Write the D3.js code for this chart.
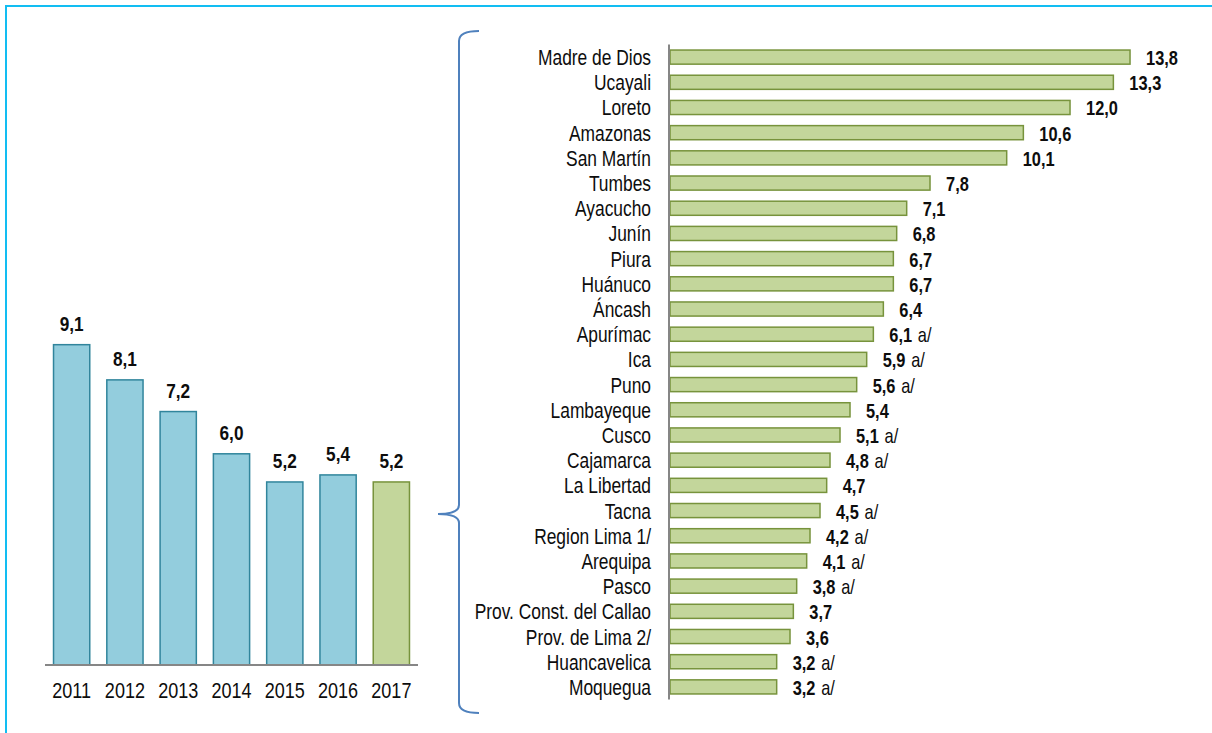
<!DOCTYPE html>
<html>
<head>
<meta charset="utf-8">
<script src="https://cdn.jsdelivr.net/npm/d3@7"></script>
<style>
  html, body { margin: 0; padding: 0; background: #ffffff; }
  svg { display: block; font-family: "Liberation Sans", Arial, sans-serif; }
</style>
</head>
<body>
<div id="chart"></div>
<script>
// Left chart: yearly values
const years = ['2011', '2012', '2013', '2014', '2015', '2016', '2017'];
const yearValues = [9.1, 8.1, 7.2, 6.0, 5.2, 5.4, 5.2];

// Right chart: regions in 2017
const regions = [
    'Madre de Dios', 'Ucayali', 'Loreto', 'Amazonas', 'San Martín', 'Tumbes',
    'Ayacucho', 'Junín', 'Piura', 'Huánuco', 'Áncash', 'Apurímac', 'Ica', 'Puno',
    'Lambayeque', 'Cusco', 'Cajamarca', 'La Libertad', 'Tacna', 'Region Lima 1/',
    'Arequipa', 'Pasco', 'Prov. Const. del Callao', 'Prov. de Lima 2/',
    'Huancavelica', 'Moquegua'
];
const regionValues = [13.8, 13.3, 12.0, 10.6, 10.1, 7.8, 7.1, 6.8, 6.7, 6.7, 6.4, 6.1, 5.9, 5.6,
    5.4, 5.1, 4.8, 4.7, 4.5, 4.2, 4.1, 3.8, 3.7, 3.6, 3.2, 3.2];
const regionNotes = ['', '', '', '', '', '', '', '', '', '', '', 'a/', 'a/', 'a/',
    '', 'a/', 'a/', '', 'a/', 'a/', 'a/', 'a/', '', '', 'a/', 'a/'];

const width = 1212;
const height = 733;
const fmt = v => v.toFixed(1).replace('.', ',');

const svg = d3.select('#chart').append('svg')
    .attr('width', width)
    .attr('height', height)
    .attr('viewBox', [0, 0, width, height]);

// frame (top and left only)
svg.append('path')
    .attr('d', `M6,${height} L6,6 L${width},6`)
    .attr('fill', 'none')
    .attr('stroke', '#12bdf2')
    .attr('stroke-width', 2);

// text squeezed horizontally, like the source image
function narrowText(parent, x, y, anchor, size, weight, sx) {
    return parent.append('text')
        .attr('transform', `translate(${x},${y}) scale(${sx || 0.78},1)`)
        .attr('text-anchor', anchor)
        .style('font-size', size + 'px')
        .style('font-weight', weight || 'normal')
        .style('fill', '#0d0d0d');
}

// ---- Left chart ----
const left = { x0: 45, x1: 418, base: 665 };

const xYear = d3.scaleBand()
    .domain(years)
    .range([left.x0, left.x1])
    .paddingInner(0.32)
    .paddingOuter(0.16);

const yYear = d3.scaleLinear()
    .domain([0, 10])
    .range([left.base, left.base - 352]);

const gl = svg.append('g');

gl.selectAll('rect')
    .data(years)
    .join('rect')
    .attr('x', d => xYear(d))
    .attr('y', (d, i) => yYear(yearValues[i]))
    .attr('width', xYear.bandwidth())
    .attr('height', (d, i) => yYear(0) - yYear(yearValues[i]))
    .attr('fill', (d, i) => i === years.length - 1 ? '#c3d69b' : '#93cddd')
    .attr('stroke', (d, i) => i === years.length - 1 ? '#77933c' : '#31859c')
    .attr('stroke-width', 1.5);

gl.append('line')
    .attr('x1', left.x0).attr('x2', left.x1)
    .attr('y1', left.base).attr('y2', left.base)
    .attr('stroke', '#868686')
    .attr('stroke-width', 2);

years.forEach((yr, i) => {
    const cx = xYear(yr) + xYear.bandwidth() / 2;
    narrowText(gl, cx, yYear(yearValues[i]) - 14, 'middle', 21, 'bold', 0.82)
        .text(fmt(yearValues[i]));
    narrowText(gl, cx, 698, 'middle', 22, 'normal', 0.82)
        .text(yr);
});

// ---- Brace ----
svg.append('path')
    .attr('d', 'M479,31 Q459,31 459,41 L459,505 Q459,514 438,514 Q459,514 459,523 L459,703 Q459,713 479,713')
    .attr('fill', 'none')
    .attr('stroke', '#4f81bd')
    .attr('stroke-width', 2);

// ---- Right chart ----
const right = { x0: 670, top: 44.5, bottom: 699.5 };

const yReg = d3.scaleBand()
    .domain(regions)
    .range([right.top, right.bottom])
    .paddingInner(0.44)
    .paddingOuter(0.22);

const xReg = d3.scaleLinear()
    .domain([0, 14])
    .range([right.x0, right.x0 + 466.7]);

const gr = svg.append('g');

gr.selectAll('rect')
    .data(regions)
    .join('rect')
    .attr('x', xReg(0))
    .attr('y', d => yReg(d))
    .attr('width', (d, i) => xReg(regionValues[i]) - xReg(0))
    .attr('height', yReg.bandwidth())
    .attr('fill', '#c3d69b')
    .attr('stroke', '#77933c')
    .attr('stroke-width', 1.5);

gr.append('line')
    .attr('x1', 669).attr('x2', 669)
    .attr('y1', right.top).attr('y2', right.bottom)
    .attr('stroke', '#868686')
    .attr('stroke-width', 2);

regions.forEach((r, i) => {
    const cy = yReg(r) + yReg.bandwidth() / 2;
    narrowText(gr, 651, cy + 8, 'end', 22, 'normal', 0.79)
        .text(r);
    const t = narrowText(gr, xReg(regionValues[i]) + 16, cy + 8, 'start', 20, 'bold', 0.82);
    t.append('tspan').text(fmt(regionValues[i]));
    if (regionNotes[i]) {
        t.append('tspan')
            .attr('dx', 7)
            .style('font-weight', 'normal')
            .text(regionNotes[i]);
    }
});
</script>
</body>
</html>
